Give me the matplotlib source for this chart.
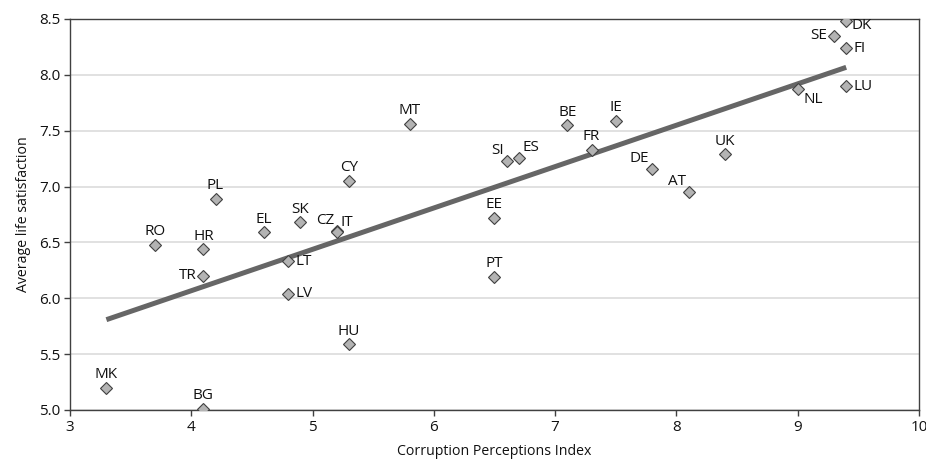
import numpy as np
from matplotlib import pyplot as plt

# country codes, corruption perceptions index and life satisfaction
countries = ['MK', 'BG', 'RO', 'HR', 'TR', 'PL', 'EL', 'SK', 'LT', 'LV',
             'CZ', 'IT', 'CY', 'HU', 'MT', 'EE', 'PT', 'SI', 'ES', 'BE',
             'FR', 'IE', 'DE', 'AT', 'UK', 'NL', 'DK', 'SE', 'FI', 'LU']
cpi = [3.3, 4.1, 3.7, 4.1, 4.1, 4.2, 4.6, 4.9, 4.8, 4.8,
       5.2, 5.2, 5.3, 5.3, 5.8, 6.5, 6.5, 6.6, 6.7, 7.1,
       7.3, 7.5, 7.8, 8.1, 8.4, 9.0, 9.4, 9.3, 9.4, 9.4]
life_sat = [5.20, 5.01, 6.48, 6.44, 6.20, 6.89, 6.59, 6.68, 6.33, 6.04,
            6.60, 6.59, 7.05, 5.59, 7.56, 6.72, 6.19, 7.23, 7.26, 7.55,
            7.33, 7.59, 7.16, 6.95, 7.29, 7.87, 8.48, 8.35, 8.24, 7.90]

# label placement around each marker (offset in points, alignment)
place = {
    'above': ((0, 4), 'center', 'bottom'),
    'left': ((-5, 0), 'right', 'center'),
    'right': ((5, 0), 'left', 'center'),
    'aboveleft': ((-2, 2), 'right', 'bottom'),
    'aboveright': ((3, 2), 'left', 'bottom'),
    'belowright': ((4, -2), 'left', 'top'),
    'rightdown': ((4, -3), 'left', 'center'),
}
label_pos = ['above', 'above', 'above', 'above', 'left', 'above', 'above', 'above', 'right', 'right',
             'aboveleft', 'aboveright', 'above', 'above', 'above', 'above', 'above', 'aboveleft', 'aboveright', 'above',
             'above', 'above', 'aboveleft', 'aboveleft', 'above', 'belowright', 'rightdown', 'left', 'right', 'right']

plt.rcParams['font.family'] = ['Open Sans', 'DejaVu Sans']

fig = plt.figure(figsize=(9.26, 4.62), dpi=100)
ax = fig.add_axes([0.0756, 0.1126, 0.9168, 0.8463])

# linear trend
slope, intercept = np.polyfit(cpi, life_sat, 1)
xs = np.array([min(cpi), max(cpi)])
ax.plot(xs, slope * xs + intercept, color='#666666', lw=3.6, solid_capstyle='butt', zorder=2)

ax.plot(cpi, life_sat, 'D', ms=6, mfc='#b3b3b3', mec='#404040', mew=0.8, zorder=3)

for c, x, y, p in zip(countries, cpi, life_sat, label_pos):
    off, ha, va = place[p]
    ax.annotate(c, (x, y), xytext=off, textcoords='offset points',
                ha=ha, va=va, fontsize=11, color='#111111', zorder=4)

ax.set_xlim(3, 10)
ax.set_ylim(5.0, 8.5)
ax.set_xticks(range(3, 11))
ax.set_yticks(np.arange(5.0, 8.51, 0.5))
ax.yaxis.set_major_formatter(plt.FormatStrFormatter('%.1f'))
ax.grid(axis='y', color='#d9d9d9', lw=1.1)
ax.set_axisbelow(True)
for s in ax.spines.values():
    s.set_color('#404040')
    s.set_linewidth(1.0)
ax.tick_params(length=4, width=1, color='#404040', labelsize=11, labelcolor='#111111', pad=3)
ax.set_xlabel('Corruption Perceptions Index', fontsize=10.2, color='#111111', labelpad=7)
ax.set_ylabel('Average life satisfaction', fontsize=10.2, color='#111111', labelpad=6)

fig.savefig('out.png', dpi=100)
